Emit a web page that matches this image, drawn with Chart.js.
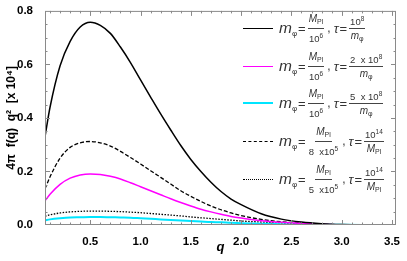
<!DOCTYPE html>
<html>
<head>
<meta charset="utf-8">
<script src="https://cdn.jsdelivr.net/npm/chart.js@4.4.1/dist/chart.umd.min.js"></script>
<style>
  html, body { margin: 0; padding: 0; background: #fff; }
  #wrap { position: relative; width: 407px; height: 261px; }
  #c { position: absolute; left: 0; top: 0; }
  .leg { position: absolute; left: 243px; height: 30px; display: flex; align-items: center;
         font-family: "Liberation Sans", Arial, sans-serif; color: #333; white-space: nowrap; }
  .ln { display: inline-block; width: 30px; height: 0; margin-right: 6px; }
  .m { font-style: italic; font-size: 15.5px; }
  .m sub { font-size: 8px; font-style: normal; vertical-align: -3px; }
  .fr sub { font-size: 7px; font-style: normal; vertical-align: -2px; }
  .fr sup { font-size: 6.5px; vertical-align: 4px; }
  .eq { font-size: 13px; margin: 0 1px; }
  .cm { font-size: 12px; margin: 0 3px 0 2px; }
  .tau { font-style: italic; font-size: 13px; }
  .fr { display: inline-flex; flex-direction: column; align-items: center; font-size: 9.5px; line-height: 11px; margin: 0 1px; }
  .fr .nu { border-bottom: 1px solid #444; padding: 0 1px 1px; }
  .fr .de { padding: 1px 1px 0; }
  .fr i { font-size: 10px; }
</style>
</head>
<body>
<div id="wrap">
  <canvas id="c" width="407" height="261"></canvas>
</div>
<script>
// q grid and curves
const qVals = [0.05, 0.1, 0.2, 0.3, 0.4, 0.5, 0.6, 0.7, 0.8, 0.9, 1.0, 1.1, 1.2, 1.3, 1.4, 1.5,
               1.6, 1.7, 1.8, 1.9, 2.0, 2.2, 2.4, 2.6, 2.8, 3.0, 3.2, 3.5];
const black   = [0.33, 0.44, 0.595, 0.686, 0.74, 0.758, 0.746, 0.716, 0.665, 0.607, 0.542, 0.478, 0.415, 0.355, 0.297, 0.245,
                 0.20, 0.16, 0.125, 0.097, 0.076, 0.042, 0.022, 0.011, 0.005, 0.002, 0.001, 0.0];
const magenta = [0.09, 0.115, 0.152, 0.175, 0.187, 0.191, 0.189, 0.182, 0.172, 0.158, 0.143, 0.128, 0.113, 0.098, 0.084, 0.071,
                 0.059, 0.049, 0.04, 0.032, 0.026, 0.016, 0.01, 0.006, 0.003, 0.001, 0.0005, 0.0];
const cyan    = [0.018, 0.021, 0.025, 0.028, 0.029, 0.03, 0.03, 0.029, 0.028, 0.027, 0.025, 0.023, 0.021, 0.019, 0.017, 0.015,
                 0.013, 0.011, 0.01, 0.008, 0.007, 0.005, 0.003, 0.002, 0.001, 0.0005, 0.0002, 0.0];
const dashed  = [0.135, 0.18, 0.25, 0.29, 0.307, 0.312, 0.307, 0.295, 0.275, 0.252, 0.228, 0.203, 0.178, 0.153, 0.128, 0.107,
                 0.088, 0.071, 0.057, 0.045, 0.035, 0.021, 0.012, 0.007, 0.003, 0.001, 0.0005, 0.0];
const dotted  = [0.033, 0.038, 0.045, 0.049, 0.051, 0.052, 0.052, 0.051, 0.05, 0.048, 0.046, 0.043, 0.04, 0.037, 0.034, 0.03,
                 0.027, 0.024, 0.021, 0.018, 0.015, 0.011, 0.007, 0.004, 0.002, 0.001, 0.0005, 0.0];

const xTicks = [0.5, 1.0, 1.5, 2.0, 2.5, 3.0, 3.5];
const yTicks = [0.0, 0.2, 0.4, 0.6, 0.8];

// legend text pieces
const massDen = ['10<sup>6</sup>', '10<sup>6</sup>', '10<sup>6</sup>', '8 &nbsp;x10<sup>5</sup>', '5 &nbsp;x10<sup>5</sup>'];
const tauNum  = ['10<sup>8</sup>', '2 &nbsp;x 10<sup>8</sup>', '5 &nbsp;x 10<sup>8</sup>', '10<sup>14</sup>', '10<sup>14</sup>'];
const tauDen  = ['<i>m</i><sub>φ</sub>', '<i>m</i><sub>φ</sub>', '<i>m</i><sub>φ</sub>', '<i>M</i><sub>Pl</sub>', '<i>M</i><sub>Pl</sub>'];

const pts = arr => qVals.map((q, i) => ({ x: q, y: arr[i] }));

const styles = [
  { data: black,   color: '#000000', width: 1.5, dash: [],     css: '1.5px solid #000' },
  { data: magenta, color: '#ff00ff', width: 1.5, dash: [],     css: '1.5px solid #ff00ff' },
  { data: cyan,    color: '#00e5ff', width: 2,   dash: [],     css: '2px solid #00e5ff' },
  { data: dashed,  color: '#000000', width: 1.3, dash: [4, 2], css: '1.3px dashed #000' },
  { data: dotted,  color: '#000000', width: 1.3, dash: [1.5, 1.5], css: '1.5px dotted #000' }
];

const frame = {
  id: 'frame',
  afterDraw(chart) {
    const { ctx, chartArea: a, scales: { x, y } } = chart;
    ctx.save();
    ctx.strokeStyle = '#8a8a8a';
    ctx.lineWidth = 1;
    ctx.strokeRect(a.left + 0.5, a.top + 0.5, a.right - a.left - 1, a.bottom - a.top - 1);
    ctx.beginPath();
    for (let i = 1; i <= 35; i++) {
      const v = i / 10;
      const px = Math.round(x.getPixelForValue(v)) + 0.5;
      const len = (i % 5 === 0) ? 5 : 2.5;
      ctx.moveTo(px, a.bottom); ctx.lineTo(px, a.bottom - len);
      ctx.moveTo(px, a.top); ctx.lineTo(px, a.top + len);
    }
    for (let i = 1; i < 16; i++) {
      const v = i * 0.05;
      const py = Math.round(y.getPixelForValue(v)) + 0.5;
      const len = (i % 4 === 0) ? 5 : 2.5;
      ctx.moveTo(a.left, py); ctx.lineTo(a.left + len, py);
      ctx.moveTo(a.right, py); ctx.lineTo(a.right - len, py);
    }
    ctx.stroke();
    ctx.restore();
  }
};

const tickFont = { family: '"Liberation Sans", Arial, sans-serif', size: 11.5, weight: 'bold' };

new Chart(document.getElementById('c'), {
  type: 'line',
  data: {
    datasets: styles.map(s => ({
      data: pts(s.data),
      borderColor: s.color,
      borderWidth: s.width,
      borderDash: s.dash,
      pointRadius: 0,
      fill: false,
      cubicInterpolationMode: 'monotone'
    }))
  },
  options: {
    responsive: false,
    animation: false,
    layout: { padding: { top: 7, right: 11, left: 0, bottom: 0 } },
    plugins: { legend: { display: false }, tooltip: { enabled: false } },
    scales: {
      x: {
        type: 'linear', min: 0.05, max: 3.54,
        grid: { display: false }, border: { display: false },
        afterBuildTicks: s => { s.ticks = xTicks.map(v => ({ value: v })); },
        afterFit: s => { s.height = 36; },
        ticks: { color: '#000', font: tickFont, padding: 2, maxRotation: 0, callback: v => v.toFixed(1) },
        title: { display: true, text: 'q', color: '#000', padding: { top: 0, bottom: 6 },
                 font: { family: '"Liberation Sans", Arial, sans-serif', size: 13, weight: 'bold', style: 'italic' } }
      },
      y: {
        min: 0, max: 0.8,
        grid: { display: false }, border: { display: false },
        afterBuildTicks: s => { s.ticks = yTicks.map(v => ({ value: v })); },
        afterFit: s => { s.width = 45; },
        ticks: { color: '#000', font: tickFont, padding: 4, callback: v => v.toFixed(1) },
        title: { display: true, text: '4π  f(q)  q²  [x 10⁴]', color: '#000', padding: { top: 4, bottom: 0 },
                 font: { family: '"Liberation Sans", Arial, sans-serif', size: 12, weight: 'bold' } }
      }
    }
  },
  plugins: [frame]
});

// legend as html so the fractions stay real text
const legTops = [13, 51, 88, 126, 164];
const wrap = document.getElementById('wrap');
styles.forEach((s, i) => {
  const d = document.createElement('div');
  d.className = 'leg';
  d.style.top = legTops[i] + 'px';
  d.innerHTML =
    '<span class="ln" style="border-top:' + s.css + '"></span>' +
    '<span class="m">m<sub>φ</sub></span><span class="eq">=</span>' +
    '<span class="fr"><span class="nu"><i>M</i><sub>Pl</sub></span><span class="de">' + massDen[i] + '</span></span>' +
    '<span class="cm">,</span><span class="tau">τ</span><span class="eq">=</span>' +
    '<span class="fr"><span class="nu">' + tauNum[i] + '</span><span class="de">' + tauDen[i] + '</span></span>';
  wrap.appendChild(d);
});
</script>
</body>
</html>
